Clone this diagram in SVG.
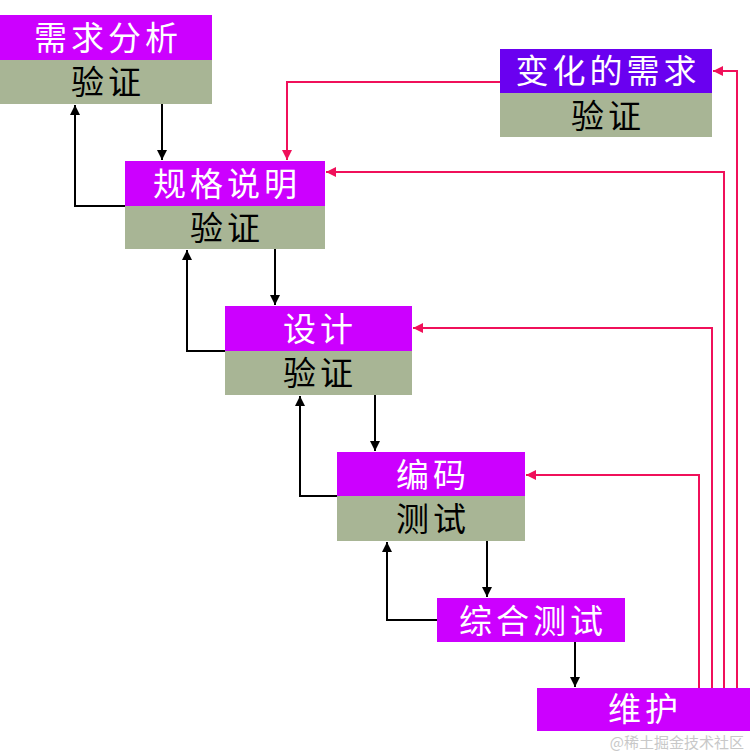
<svg xmlns="http://www.w3.org/2000/svg" width="750" height="754" viewBox="0 0 750 754">
<defs>
<marker id="ab" viewBox="0 0 10 10" refX="10" refY="5" markerWidth="5" markerHeight="5" orient="auto"><path d="M0,0 L10,5 L0,10 Z" fill="#000"/></marker>
<marker id="ar" viewBox="0 0 10 10" refX="10" refY="5" markerWidth="5" markerHeight="5" orient="auto"><path d="M0,0 L10,5 L0,10 Z" fill="#F0105A"/></marker>
<style>
.p{fill:#CC00FF}
.b{fill:#6A00F0}
.g{fill:#A8B595}
.tw{font-family:"Noto Sans CJK SC",sans-serif;font-size:33px;letter-spacing:4px;fill:#fff;text-anchor:middle}
.tb{font-family:"Noto Sans CJK SC",sans-serif;font-size:33px;letter-spacing:4px;fill:#000;text-anchor:middle}
.k{fill:none;stroke:#000;stroke-width:2;marker-end:url(#ab)}
.r{fill:none;stroke:#F0105A;stroke-width:2;marker-end:url(#ar)}
</style>
</defs>
<rect width="750" height="754" fill="#fff"/>
<g id="n1"><rect class="p" x="0" y="15" width="212" height="45"/><rect class="g" x="0" y="60" width="212" height="44"/><text class="tw" x="108" y="50">需求分析</text><text class="tb" x="108" y="94">验证</text></g>
<g id="n2"><rect class="b" x="500" y="49" width="212" height="44"/><rect class="g" x="500" y="93" width="212" height="44"/><text class="tw" x="608" y="83">变化的需求</text><text class="tb" x="608" y="128">验证</text></g>
<g id="n3"><rect class="p" x="125" y="161" width="200" height="45"/><rect class="g" x="125" y="206" width="200" height="43"/><text class="tw" x="227" y="196">规格说明</text><text class="tb" x="227" y="240">验证</text></g>
<g id="n4"><rect class="p" x="225" y="306" width="187" height="45"/><rect class="g" x="225" y="351" width="187" height="44"/><text class="tw" x="320" y="341">设计</text><text class="tb" x="320" y="385">验证</text></g>
<g id="n5"><rect class="p" x="337" y="452" width="188" height="44"/><rect class="g" x="337" y="496" width="188" height="45"/><text class="tw" x="433" y="487">编码</text><text class="tb" x="433" y="531">测试</text></g>
<g id="n6"><rect class="p" x="437" y="598" width="188" height="44"/><text class="tw" x="533" y="633">综合测试</text></g>
<g id="n7"><rect class="p" x="537" y="688" width="213" height="43"/><text class="tw" x="645" y="721">维护</text></g>
<g id="connectors">
<path class="k" d="M162,104 V160"/>
<path class="k" d="M125,206 H75 V105"/>
<path class="k" d="M275,249 V305"/>
<path class="k" d="M225,351 H187 V250"/>
<path class="k" d="M375,395 V451"/>
<path class="k" d="M337,496 H300 V396"/>
<path class="k" d="M487,541 V597"/>
<path class="k" d="M437,620 H387 V542"/>
<path class="k" d="M575,642 V687"/>
<path class="r" d="M500,82 H287 V160"/>
<path class="r" d="M737,688 V71 H713"/>
<path class="r" d="M724,688 V172 H326"/>
<path class="r" d="M712,688 V328 H413"/>
<path class="r" d="M699,688 V475 H526"/>
</g>
<text x="744" y="748" font-family="Noto Sans CJK SC,sans-serif" font-size="15" fill="#C8C8C8" text-anchor="end">@稀土掘金技术社区</text>
</svg>
